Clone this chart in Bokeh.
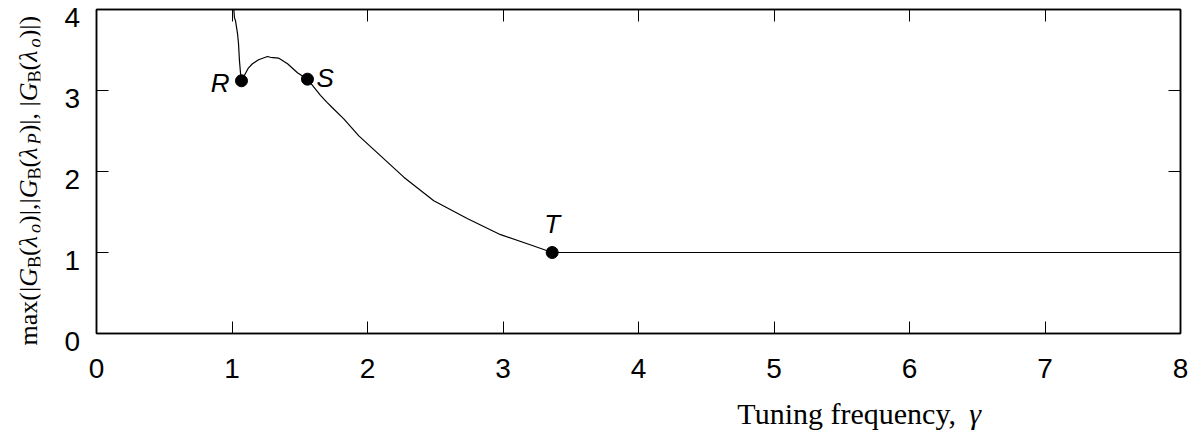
import math
from bokeh.plotting import figure
from bokeh.layouts import row, column
from bokeh.models import ColumnDataSource, Range1d, LinearAxis, FixedTicker
from bokeh.core.properties import value
from bokeh.embed import file_html
from bokeh.resources import INLINE

# ---- data --------------------------------------------------------------
gamma = [1.011, 1.018, 1.026, 1.041, 1.048, 1.055, 1.063, 1.070,
         1.122, 1.151, 1.196, 1.262, 1.284, 1.343, 1.410, 1.483, 1.557,
         1.653, 1.703, 1.739, 1.825, 1.936, 2.268, 2.489, 2.736, 2.982,
         3.227, 3.363, 8.0]
gain = [4.05, 3.90, 3.86, 3.70, 3.58, 3.37, 3.21, 3.12,
        3.28, 3.33, 3.38, 3.42, 3.41, 3.40, 3.33, 3.22, 3.14,
        2.94, 2.85, 2.79, 2.65, 2.44, 1.93, 1.64, 1.42, 1.22,
        1.08, 1.0, 1.0]

point_names = ["R", "S", "T"]
point_gamma = [1.070, 1.557, 3.363]
point_gain = [3.12, 3.14, 1.0]

x_ticks = [0, 1, 2, 3, 4, 5, 6, 7, 8]
y_ticks = [0, 1, 2, 3, 4]

x_title = "Tuning frequency,"
x_symbol = "γ"

# ---- page geometry -----------------------------------------------------
PAGE_W, PAGE_H = 1197, 430
STRIP_W = 84               # y title + y tick labels
STRIP_FRAME_W = 40         # part of the strip that holds the rotated title
MAIN_W = PAGE_W - STRIP_W
FRAME_TOP, FRAME_H = 9, 324
BORDER_BOTTOM = 60
MAIN_H = FRAME_TOP + FRAME_H + BORDER_BOTTOM
BOTTOM_H = PAGE_H - MAIN_H  # strip for the x title
PX_PER_Y = FRAME_H / 4.0
LABEL_DROP = 8              # y tick labels sit a little below their ticks

TICK_FONT = "Liberation Sans"
TICK_SIZE = "28px"


def style_axis(ax, ticks, show_labels, show_line=True):
    ax.ticker = FixedTicker(ticks=ticks)
    ax.minor_tick_line_color = None
    ax.major_tick_in = 12 if show_line else 0
    ax.major_tick_out = 0
    ax.major_tick_line_color = "black" if show_line else None
    ax.major_tick_line_width = 1
    ax.axis_line_color = "black" if show_line else None
    ax.axis_line_width = 1.5
    if show_labels:
        ax.major_label_text_font = TICK_FONT
        ax.major_label_text_font_size = TICK_SIZE
        ax.major_label_text_color = "black"
    else:
        ax.major_label_text_font_size = "1px"
        ax.major_label_text_color = None
        ax.major_label_standoff = 0


# ---- main plot ---------------------------------------------------------
p = figure(width=MAIN_W, height=MAIN_H, output_backend="svg", toolbar_location=None,
           x_range=Range1d(0, 8), y_range=Range1d(0, 4),
           min_border_left=12, min_border_right=17,
           min_border_top=FRAME_TOP, min_border_bottom=BORDER_BOTTOM)
p.grid.visible = False
p.outline_line_color = "black"
p.outline_line_width = 1.5
p.background_fill_color = "white"
p.border_fill_color = "white"

style_axis(p.xaxis[0], x_ticks, True)
p.xaxis[0].major_label_standoff = 25
style_axis(p.yaxis[0], y_ticks, False)

top_ax = LinearAxis()
right_ax = LinearAxis()
style_axis(top_ax, x_ticks, False)
style_axis(right_ax, y_ticks, False)
p.add_layout(top_ax, "above")
p.add_layout(right_ax, "right")

# curve and marked points
p.line(gamma, gain, line_color="black", line_width=1.2)

pts = ColumnDataSource(dict(x=point_gamma, y=point_gain, name=point_names,
                            dx=[-12, 9, 0], dy=[2, -1, -29],
                            align=["right", "left", "center"]))
p.scatter("x", "y", source=pts, size=12, color="black")
p.text("x", "y", text="name", source=pts, x_offset="dx", y_offset="dy",
       text_align="align", text_baseline="middle",
       text_font=value("Liberation Sans"), text_font_style="italic",
       text_font_size="26px", text_color="black")

# ---- left strip: rotated y title and y tick labels ---------------------
lab0 = FRAME_TOP + FRAME_H + LABEL_DROP
strip = figure(width=STRIP_W, height=PAGE_H, output_backend="svg",
               toolbar_location=None, x_axis_type=None, y_axis_type=None,
               x_range=Range1d(0, STRIP_FRAME_W),
               y_range=Range1d((lab0 - PAGE_H) / PX_PER_Y, lab0 / PX_PER_Y),
               min_border_left=0, min_border_top=0, min_border_bottom=0,
               min_border_right=STRIP_W - STRIP_FRAME_W)
strip.grid.visible = False
strip.outline_line_color = None
strip.background_fill_color = "white"
strip.border_fill_color = "white"
strip.extra_y_ranges = {"px": Range1d(PAGE_H, 0)}

tick_ax = LinearAxis()
style_axis(tick_ax, y_ticks, True, show_line=False)
tick_ax.major_label_standoff = 24
strip.add_layout(tick_ax, "right")

FS = 26.0
SUB = 0.7
adv = {"m": .778, "a": .444, "x": .5, "(": .333, ")": .333, "|": .2,
       ",": .25, " ": .25, "B": .667, "G": .722, "λ": .55, "o": .5, "P": .611}
pieces = [("max(|", "normal", False), ("G", "italic", False), ("B", "normal", True),
          ("(", "normal", False), ("λ", "italic", False), ("o", "italic", True),
          (")|,|", "normal", False), ("G", "italic", False), ("B", "normal", True),
          ("(", "normal", False), ("λ", "italic", False), ("P", "italic", True),
          (")|, |", "normal", False), ("G", "italic", False), ("B", "normal", True),
          ("(", "normal", False), ("λ", "italic", False), ("o", "italic", True),
          (")|)", "normal", False)]
base_x = 28
cur = 345
ys = dict(x=[], y=[], t=[], st=[], fs=[])
for txt, style, sub in pieces:
    size = FS * SUB if sub else FS
    ys["x"].append(base_x + (6 if sub else 0))
    ys["y"].append(cur)
    ys["t"].append(txt)
    ys["st"].append(style)
    ys["fs"].append(f"{size:.1f}px")
    cur -= sum(adv[c] for c in txt) * size
strip.text("x", "y", text="t", source=ColumnDataSource(ys), y_range_name="px",
           angle=math.pi / 2, text_font=value("Liberation Serif"),
           text_font_style="st", text_font_size="fs", text_baseline="alphabetic",
           text_align="left", text_color="black")

# ---- bottom strip: x title (page pixel coordinates) --------------------
bottom = figure(width=MAIN_W, height=BOTTOM_H, output_backend="svg",
                toolbar_location=None, x_axis_type=None, y_axis_type=None,
                x_range=Range1d(STRIP_W, PAGE_W), y_range=Range1d(PAGE_H, MAIN_H),
                min_border=0)
bottom.grid.visible = False
bottom.outline_line_color = None
bottom.background_fill_color = "white"
bottom.border_fill_color = "white"
bottom.text(x=[742], y=[413], text=[x_title],
            text_font=value("Liberation Serif"), text_font_size="30px",
            text_baseline="alphabetic", text_align="left", text_color="black")
bottom.text(x=[980], y=[413], text=[x_symbol],
            text_font=value("Liberation Serif"), text_font_style="italic",
            text_font_size="30px", text_baseline="alphabetic", text_align="left",
            text_color="black")

layout = row(strip, column(p, bottom, spacing=0), spacing=0)
open("out.html", "w").write(file_html(layout, INLINE))
